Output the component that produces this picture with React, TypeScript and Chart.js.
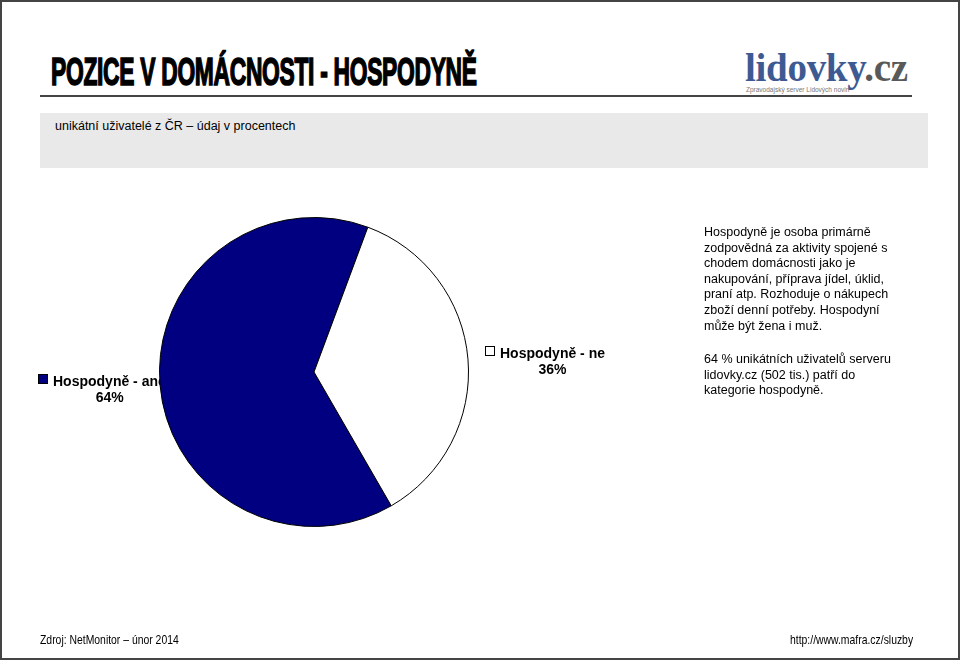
import React, { useEffect, useRef } from "react";
import { Chart, registerables } from "chart.js";

Chart.register(...registerables);

const categories = ["Hospodyně - ano", "Hospodyně - ne"];
const values = [64, 36];
const sliceColors = ["#000080", "#ffffff"];

const titleText = "POZICE V DOMÁCNOSTI - HOSPODYNĚ";
const subtitleText = "unikátní uživatelé z ČR – údaj v procentech";
const descLines = [
  "Hospodyně je osoba primárně",
  "zodpovědná za aktivity spojené s",
  "chodem domácnosti jako je",
  "nakupování, příprava jídel, úklid,",
  "praní atp. Rozhoduje o nákupech",
  "zboží denní potřeby. Hospodyní",
  "může být žena i muž.",
];
const noteLines = [
  "64 % unikátních uživatelů serveru",
  "lidovky.cz (502 tis.) patří do",
  "kategorie hospodyně.",
];
const sourceText = "Zdroj: NetMonitor – únor 2014";
const urlText = "http://www.mafra.cz/sluzby";

// label anchor positions (box left, text baseline) for each slice label
const labelPos = [
  { x: 38, y: 386 },
  { x: 485, y: 358 },
];

const labelPlugin = {
  id: "sliceLabels",
  beforeDatasetsDraw(chart: any) {
    const ctx = chart.ctx;
    const ds = chart.data.datasets[0];
    ctx.save();
    ctx.font = "bold 14px 'Liberation Sans', Arial, sans-serif";
    ctx.textBaseline = "alphabetic";
    chart.data.labels.forEach((lab: string, i: number) => {
      const p = labelPos[i];
      ctx.fillStyle = ds.backgroundColor[i];
      ctx.fillRect(p.x + 0.5, p.y - 11.5, 9, 9);
      ctx.strokeStyle = "#000";
      ctx.lineWidth = 1;
      ctx.strokeRect(p.x + 0.5, p.y - 11.5, 9, 9);
      ctx.fillStyle = "#000";
      ctx.textAlign = "left";
      const tx = p.x + 15;
      ctx.fillText(lab, tx, p.y);
      const w = ctx.measureText(lab).width;
      ctx.textAlign = "center";
      ctx.fillText(Math.round(ds.data[i]) + "%", tx + w / 2, p.y + 16);
    });
    ctx.restore();
  },
};

export default function App() {
  const ref = useRef<HTMLCanvasElement>(null);
  useEffect(() => {
    if (!ref.current) return;
    const chart = new Chart(ref.current, {
      type: "pie",
      data: {
        labels: categories,
        datasets: [
          {
            data: values,
            backgroundColor: sliceColors,
            borderColor: "#000000",
            borderWidth: 1,
          },
        ],
      },
      options: {
        animation: false,
        responsive: true,
        maintainAspectRatio: false,
        rotation: 150,
        events: [],
        layout: { padding: { left: 159, top: 217, right: 491, bottom: 133 } },
        plugins: {
          legend: { display: false },
          tooltip: { enabled: false },
          title: { display: false },
        },
      },
      plugins: [labelPlugin],
    });
    return () => chart.destroy();
  }, []);

  const sans = "'Liberation Sans', Arial, sans-serif";
  return (
    <div
      style={{
        position: "fixed",
        left: 0,
        top: 0,
        width: 960,
        height: 660,
        background: "#fff",
        overflow: "hidden",
        fontFamily: sans,
        color: "#000",
      }}
    >
      <div
        style={{
          position: "absolute",
          left: 0,
          top: 0,
          width: 956,
          height: 656,
          border: "2px solid #444",
          boxSizing: "content-box",
        }}
      />
      <div
        style={{
          position: "absolute",
          left: 51,
          top: 51,
          fontFamily: sans,
          fontWeight: 700,
          fontSize: 39,
          lineHeight: "42px",
          whiteSpace: "nowrap",
          transform: "scaleX(0.585)",
          transformOrigin: "left top",
          letterSpacing: -0.5,
          WebkitTextStroke: "1.6px #000",
        }}
      >
        {titleText}
      </div>
      <div
        style={{
          position: "absolute",
          left: 40,
          top: 95,
          width: 872,
          height: 2,
          background: "#444",
        }}
      />
      <div
        style={{
          position: "absolute",
          left: 745,
          top: 46,
          fontFamily: "'Liberation Serif', 'DejaVu Serif', serif",
          fontWeight: 700,
          fontSize: 39,
          lineHeight: "44px",
          whiteSpace: "nowrap",
          letterSpacing: -0.3,
        }}
      >
        <span style={{ color: "#3d5a93" }}>lidovky</span>
        <span style={{ color: "#595959" }}>.cz</span>
      </div>
      <div
        style={{
          position: "absolute",
          left: 746,
          top: 86,
          fontSize: 6.5,
          color: "#777",
          whiteSpace: "nowrap",
        }}
      >
        Zpravodajský server Lidových novin
      </div>
      <div
        style={{
          position: "absolute",
          left: 40,
          top: 113,
          width: 888,
          height: 55,
          background: "#e9e9e9",
        }}
      />
      <div
        style={{
          position: "absolute",
          left: 55,
          top: 118,
          fontSize: 12.5,
          lineHeight: "16px",
          whiteSpace: "nowrap",
        }}
      >
        {subtitleText}
      </div>
      <div
        style={{
          position: "absolute",
          left: 0,
          top: 0,
          width: 960,
          height: 660,
        }}
      >
        <canvas ref={ref} />
      </div>
      <div
        style={{
          position: "absolute",
          left: 704,
          top: 225,
          fontSize: 12.5,
          lineHeight: "15.6px",
          whiteSpace: "nowrap",
        }}
      >
        {descLines.map((l, i) => (
          <div key={i}>{l}</div>
        ))}
      </div>
      <div
        style={{
          position: "absolute",
          left: 704,
          top: 352,
          fontSize: 12.5,
          lineHeight: "15.6px",
          whiteSpace: "nowrap",
        }}
      >
        {noteLines.map((l, i) => (
          <div key={i}>{l}</div>
        ))}
      </div>
      <div
        style={{
          position: "absolute",
          left: 40,
          top: 632,
          fontFamily: sans,
          fontSize: 13,
          lineHeight: "16px",
          whiteSpace: "nowrap",
          transform: "scaleX(0.8)",
          transformOrigin: "left top",
        }}
      >
        {sourceText}
      </div>
      <div
        style={{
          position: "absolute",
          left: 790,
          top: 632,
          fontFamily: sans,
          fontSize: 13,
          lineHeight: "16px",
          whiteSpace: "nowrap",
          transform: "scaleX(0.8)",
          transformOrigin: "left top",
        }}
      >
        {urlText}
      </div>
    </div>
  );
}
